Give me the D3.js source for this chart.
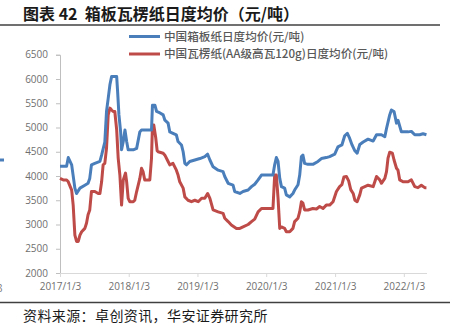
<!DOCTYPE html>
<html><head><meta charset="utf-8">
<script src="https://cdn.jsdelivr.net/npm/d3@7"></script>
<style>body{margin:0;background:#fff;}svg{display:block;font-family:"Noto Sans CJK SC","Noto Sans",sans-serif;}</style>
</head><body><svg id="c" width="456" height="329"></svg>
<script>
const titleText = "图表 42  箱板瓦楞纸日度均价（元/吨）";
const sourceText = "资料来源：卓创资讯，华安证券研究所";
const seriesNames = ["中国箱板纸日度均价(元/吨)", "中国瓦楞纸(AA级高瓦120g)日度均价(元/吨)"];
const yTicks = [2000, 2500, 3000, 3500, 4000, 4500, 5000, 5500, 6000, 6500];
const xTickLabels = ["2017/1/3", "2018/1/3", "2019/1/3", "2020/1/3", "2021/1/3", "2022/1/3"];

const boxDates = ["2017-01-03","2017-02-07","2017-02-16","2017-03-06","2017-03-23","2017-04-01","2017-04-19","2017-05-15","2017-06-01","2017-06-10","2017-06-19","2017-07-07","2017-08-03","2017-08-12","2017-08-29","2017-09-07","2017-09-16","2017-09-25","2017-10-04","2017-10-31","2017-11-05","2017-11-12","2017-11-21","2017-11-26","2017-12-05","2017-12-14","2017-12-23","2017-12-31","2018-01-27","2018-02-14","2018-03-03","2018-03-12","2018-05-04","2018-05-09","2018-05-22","2018-05-31","2018-06-18","2018-07-05","2018-07-14","2018-07-31","2018-08-09","2018-08-26","2018-09-13","2018-09-22","2018-10-10","2018-10-19","2018-10-28","2018-11-06","2018-11-23","2018-12-20","2019-01-16","2019-02-11","2019-02-26","2019-03-10","2019-03-27","2019-04-23","2019-05-19","2019-05-28","2019-06-15","2019-07-11","2019-07-20","2019-08-16","2019-09-02","2019-09-29","2019-10-17","2019-11-03","2019-11-21","2019-12-09","2020-02-08","2020-02-17","2020-02-26","2020-03-06","2020-03-15","2020-03-24","2020-04-10","2020-04-19","2020-05-07","2020-05-24","2020-06-02","2020-06-20","2020-06-29","2020-07-08","2020-07-16","2020-07-25","2020-08-12","2020-09-07","2020-10-04","2020-10-22","2020-11-17","2020-12-05","2021-01-01","2021-01-18","2021-02-08","2021-02-23","2021-03-09","2021-03-21","2021-04-03","2021-04-18","2021-04-30","2021-05-14","2021-06-01","2021-06-27","2021-07-24","2021-08-11","2021-09-06","2021-09-24","2021-10-03","2021-10-20","2021-10-29","2021-11-12","2021-11-25","2021-12-03","2021-12-21","2022-01-25","2022-02-12","2022-03-02","2022-03-28","2022-04-15","2022-05-03"];
const boxValues = [4200,4200,4380,4230,3750,3640,3750,3810,3850,3950,4230,4260,4300,4430,4700,5330,5600,5880,6050,6050,5740,5260,4910,4540,4710,4950,4710,4540,4540,4570,4910,4950,4950,5460,5460,5330,5300,5260,5150,5090,4910,4880,4850,4710,4640,4500,4260,4230,4300,4330,4360,4400,4450,4330,4190,4120,4090,3990,3850,3810,3680,3640,3680,3710,3780,3830,3920,4020,4020,4230,4380,4300,3950,3780,3750,3610,3570,3640,3710,3820,4020,4400,4430,4260,4240,4240,4300,4360,4380,4400,4450,4600,4640,4830,4880,4780,4640,4520,4470,4650,4700,4760,4720,4850,4850,4810,4980,5260,5360,5330,5090,5150,4910,4910,4920,4850,4850,4870,4850];

const corDates = ["2017-01-03","2017-01-20","2017-02-07","2017-02-16","2017-03-06","2017-03-14","2017-03-23","2017-04-01","2017-04-10","2017-04-19","2017-04-28","2017-05-15","2017-05-24","2017-06-01","2017-06-10","2017-06-19","2017-07-07","2017-07-25","2017-08-03","2017-08-12","2017-08-20","2017-08-29","2017-09-07","2017-09-16","2017-09-25","2017-10-04","2017-10-12","2017-10-21","2017-10-31","2017-11-08","2017-11-17","2017-11-26","2017-12-05","2017-12-17","2017-12-23","2017-12-31","2018-01-09","2018-01-27","2018-02-04","2018-02-14","2018-03-03","2018-03-12","2018-03-20","2018-03-29","2018-04-25","2018-05-04","2018-05-09","2018-05-16","2018-05-26","2018-06-03","2018-06-08","2018-07-05","2018-07-14","2018-07-31","2018-08-09","2018-08-26","2018-09-13","2018-09-22","2018-10-01","2018-10-19","2018-10-28","2018-11-14","2018-12-02","2018-12-20","2019-01-07","2019-01-25","2019-02-11","2019-02-26","2019-03-10","2019-03-27","2019-04-23","2019-05-19","2019-05-28","2019-06-15","2019-07-02","2019-07-29","2019-08-16","2019-09-02","2019-09-29","2019-10-17","2019-11-03","2019-11-21","2019-12-09","2020-02-08","2020-02-17","2020-02-26","2020-03-06","2020-03-15","2020-03-24","2020-04-10","2020-04-19","2020-05-07","2020-05-24","2020-06-02","2020-06-20","2020-06-29","2020-07-08","2020-07-16","2020-07-25","2020-08-12","2020-09-07","2020-09-26","2020-10-13","2020-10-31","2020-11-17","2020-12-05","2020-12-23","2021-01-10","2021-01-27","2021-02-08","2021-02-19","2021-03-04","2021-03-16","2021-03-27","2021-04-09","2021-04-18","2021-04-30","2021-05-14","2021-05-23","2021-06-10","2021-06-27","2021-07-24","2021-08-11","2021-08-28","2021-09-06","2021-09-24","2021-10-03","2021-10-11","2021-10-20","2021-11-03","2021-11-12","2021-11-25","2021-12-03","2021-12-12","2021-12-30","2022-01-25","2022-02-12","2022-03-02","2022-03-19","2022-04-06","2022-04-24","2022-05-03"];
const corValues = [3950,3920,3920,3880,3710,3400,2780,2650,2650,2780,2850,2920,3030,3200,3300,3680,3680,3640,3640,3880,4230,4260,4570,5260,5400,5360,5330,5330,4950,4370,4020,3400,3920,4060,3880,3540,3470,3470,3500,3680,3950,4160,4090,3920,3920,4370,5050,5050,4800,4520,4500,4470,4430,4300,4230,4260,4120,4020,3880,3750,3570,3500,3470,3500,3470,3540,3540,3640,3540,3300,3260,3230,3130,3060,2990,2920,2920,2950,3000,3060,3110,3260,3330,3330,4020,4020,3540,2920,2950,2920,2850,2850,2920,3060,3130,3260,3470,3440,3300,3300,3330,3320,3370,3330,3400,3400,3470,3680,3780,3820,3980,3990,3900,3720,3640,3500,3470,3610,3750,3780,3810,3780,3990,3920,3850,3950,4090,4370,4490,4470,4330,4160,4120,3920,3880,3880,3920,3780,3760,3810,3760,3760];

const colors = ["#4a7ebb", "#be4b48"];
const svg = d3.select("#c");
const parse = d3.timeParse("%Y-%m-%d");
const xTickDates = ["2017-01-03","2018-01-03","2019-01-03","2020-01-03","2021-01-03","2022-01-03"].map(parse);

const x = d3.scaleTime().domain([parse("2017-01-03"), parse("2022-05-06")]).range([60, 427]);
const y = d3.scaleLinear().domain([2000, 6500]).range([273, 54.75]);

// Title
svg.append("text").attr("x", 23).attr("y", 20).attr("font-size", 16).attr("font-weight", "bold")
  .attr("fill", "#1a1a1a").attr("xml:space", "preserve").style("white-space", "pre").text(titleText);
svg.append("line").attr("x1", 0).attr("x2", 440).attr("y1", 25).attr("y2", 25).attr("stroke", "#404040").attr("stroke-width", 1.3);

// cropped fragment of neighbour chart visible at the left edge
svg.append("line").attr("x1", -4).attr("x2", 4).attr("y1", 160).attr("y2", 160).attr("stroke", colors[0]).attr("stroke-width", 3);
svg.append("text").attr("x", -3).attr("y", 292).attr("font-size", 10).attr("fill", "#7f7f7f").text("3");

// Legend
seriesNames.forEach((n, i) => {
  const ly = 36.5 + i * 17.5;
  svg.append("line").attr("x1", 129).attr("x2", 160).attr("y1", ly).attr("y2", ly).attr("stroke", colors[i]).attr("stroke-width", 3);
  svg.append("text").attr("x", 164).attr("y", ly + 4).attr("font-size", 11.6).attr("font-weight", 500).attr("fill", "#595959").text(n);
});

// Axes
const yAxis = d3.axisLeft(y).tickValues(yTicks).tickSize(4).tickPadding(8).tickFormat(d3.format("d"));
const gy = svg.append("g").attr("transform", "translate(60,0)").call(yAxis);
gy.select(".domain").attr("stroke", "#bfbfbf");
gy.selectAll(".tick line").attr("stroke", "#bfbfbf");
gy.selectAll(".tick text").attr("fill", "#6f6f6f").attr("font-size", 10).attr("font-family", "'Open Sans','Noto Sans',sans-serif");

const xAxis = d3.axisBottom(x).tickValues(xTickDates).tickSize(4).tickPadding(6).tickFormat((d, i) => xTickLabels[i]);
const gx = svg.append("g").attr("transform", "translate(0,273)").call(xAxis);
gx.select(".domain").attr("stroke", "#d9d9d9").attr("d", "M60,0.5H427");
gx.selectAll(".tick line").attr("stroke", "#d9d9d9");
gx.selectAll(".tick text").attr("fill", "#6f6f6f").attr("font-size", 10).attr("font-family", "'Open Sans','Noto Sans',sans-serif");

// Lines
const line = d3.line().x(d => x(d[0])).y(d => y(d[1]));
const series = [
  boxDates.map((d, i) => [parse(d), boxValues[i]]),
  corDates.map((d, i) => [parse(d), corValues[i]])
];
[1, 0].forEach(i => {
  svg.append("path").datum(series[i]).attr("d", line).attr("fill", "none")
    .attr("stroke", colors[i]).attr("stroke-width", 3).attr("stroke-linejoin", "round");
});

// Source
svg.append("line").attr("x1", 0).attr("x2", 450).attr("y1", 302.5).attr("y2", 302.5).attr("stroke", "#404040").attr("stroke-width", 1.3);
svg.append("text").attr("x", 23).attr("y", 321).attr("font-size", 14).attr("fill", "#1a1a1a")
  .attr("letter-spacing", 0.4).text(sourceText);
</script></body></html>
